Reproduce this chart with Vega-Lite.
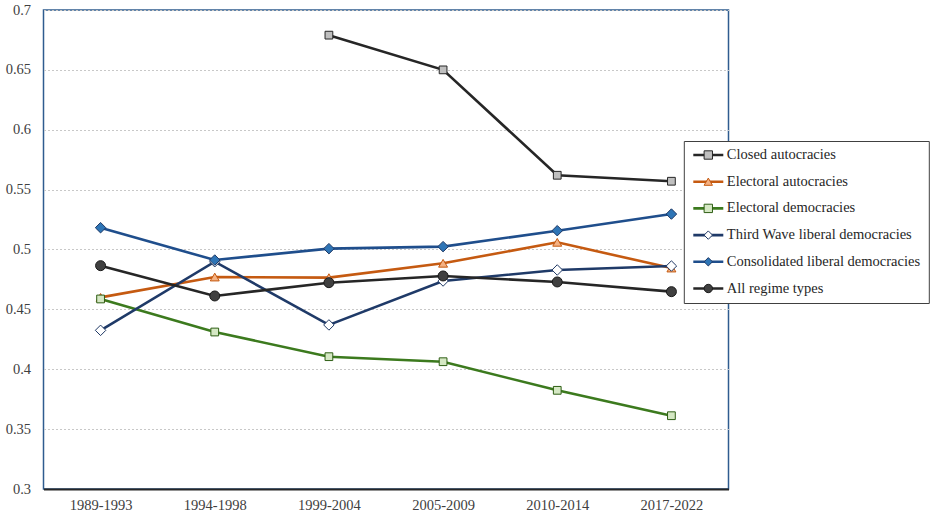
{
  "$schema": "https://vega.github.io/schema/vega-lite/v6.json",
  "width": 685,
  "height": 479,
  "autosize": {"type": "none"},
  "padding": {"left": 43.5, "top": 10, "right": 206.5, "bottom": 28},
  "background": "white",
  "config": {
    "font": "Times New Roman, Liberation Serif, serif",
    "view": {"stroke": "#2f5c8f", "strokeWidth": 1.5}
  },
  "data": {
    "values": [
      {"period": "1999-2004", "series": "Closed autocracies", "order": 1, "value": 0.679},
      {"period": "2005-2009", "series": "Closed autocracies", "order": 1, "value": 0.650},
      {"period": "2010-2014", "series": "Closed autocracies", "order": 1, "value": 0.562},
      {"period": "2017-2022", "series": "Closed autocracies", "order": 1, "value": 0.557},
      {"period": "1989-1993", "series": "Electoral autocracies", "order": 2, "value": 0.460},
      {"period": "1994-1998", "series": "Electoral autocracies", "order": 2, "value": 0.477},
      {"period": "1999-2004", "series": "Electoral autocracies", "order": 2, "value": 0.4765},
      {"period": "2005-2009", "series": "Electoral autocracies", "order": 2, "value": 0.4885},
      {"period": "2010-2014", "series": "Electoral autocracies", "order": 2, "value": 0.506},
      {"period": "2017-2022", "series": "Electoral autocracies", "order": 2, "value": 0.4845},
      {"period": "1989-1993", "series": "Electoral democracies", "order": 3, "value": 0.4587},
      {"period": "1994-1998", "series": "Electoral democracies", "order": 3, "value": 0.4311},
      {"period": "1999-2004", "series": "Electoral democracies", "order": 3, "value": 0.4105},
      {"period": "2005-2009", "series": "Electoral democracies", "order": 3, "value": 0.4063},
      {"period": "2010-2014", "series": "Electoral democracies", "order": 3, "value": 0.3824},
      {"period": "2017-2022", "series": "Electoral democracies", "order": 3, "value": 0.3612},
      {"period": "1989-1993", "series": "Third Wave liberal democracies", "order": 4, "value": 0.4325},
      {"period": "1994-1998", "series": "Third Wave liberal democracies", "order": 4, "value": 0.4898},
      {"period": "1999-2004", "series": "Third Wave liberal democracies", "order": 4, "value": 0.437},
      {"period": "2005-2009", "series": "Third Wave liberal democracies", "order": 4, "value": 0.4737},
      {"period": "2010-2014", "series": "Third Wave liberal democracies", "order": 4, "value": 0.4829},
      {"period": "2017-2022", "series": "Third Wave liberal democracies", "order": 4, "value": 0.4862},
      {"period": "1989-1993", "series": "Consolidated liberal democracies", "order": 5, "value": 0.5182},
      {"period": "1994-1998", "series": "Consolidated liberal democracies", "order": 5, "value": 0.4912},
      {"period": "1999-2004", "series": "Consolidated liberal democracies", "order": 5, "value": 0.5007},
      {"period": "2005-2009", "series": "Consolidated liberal democracies", "order": 5, "value": 0.5024},
      {"period": "2010-2014", "series": "Consolidated liberal democracies", "order": 5, "value": 0.5157},
      {"period": "2017-2022", "series": "Consolidated liberal democracies", "order": 5, "value": 0.5296},
      {"period": "1989-1993", "series": "All regime types", "order": 6, "value": 0.4865},
      {"period": "1994-1998", "series": "All regime types", "order": 6, "value": 0.4612},
      {"period": "1999-2004", "series": "All regime types", "order": 6, "value": 0.4723},
      {"period": "2005-2009", "series": "All regime types", "order": 6, "value": 0.4779},
      {"period": "2010-2014", "series": "All regime types", "order": 6, "value": 0.4729},
      {"period": "2017-2022", "series": "All regime types", "order": 6, "value": 0.4648}
    ]
  },
  "encoding": {
    "x": {
      "field": "period", "type": "ordinal",
      "scale": {"type": "point", "padding": 0.5},
      "axis": {"title": null, "labelAngle": 0, "ticks": false, "tickSize": 0, "labelPadding": 9, "grid": false,
               "domainColor": "#262626", "domainWidth": 1.8, "labelFont": "Times New Roman, Liberation Serif, serif", "labelFontSize": 14.5, "labelColor": "#404040"}
    },
    "y": {
      "field": "value", "type": "quantitative",
      "scale": {"domain": [0.3, 0.7], "nice": false, "zero": false},
      "axis": {"title": null, "values": [0.3, 0.35, 0.4, 0.45, 0.5, 0.55, 0.6, 0.65, 0.7], "format": ".2~f",
               "domain": false, "ticks": false, "tickSize": 0, "labelPadding": 13, "grid": true,
               "gridColor": "#c8c8c8", "gridDash": [2, 2], "gridWidth": 1,
               "labelFont": "Times New Roman, Liberation Serif, serif", "labelFontSize": 14.5, "labelColor": "#404040"}
    }
  },
  "layer": [
    {
      "mark": {"type": "line", "strokeWidth": 2.6},
      "encoding": {
        "color": {
          "field": "series", "type": "nominal",
          "scale": {
            "domain": ["Closed autocracies", "Electoral autocracies", "Electoral democracies", "Third Wave liberal democracies", "Consolidated liberal democracies", "All regime types"],
            "range": ["#262626", "#c55a11", "#3c7a1e", "#1f3a68", "#1f4e8c", "#262626"]
          },
          "legend": {
            "orient": "none", "legendX": 640.3, "legendY": 131, "title": null,
            "symbolType": "stroke", "symbolSize": 900, "symbolStrokeWidth": 2.6,
            "clipHeight": 12, "rowPadding": 11.7, "padding": 8,
            "labelFont": "Times New Roman, Liberation Serif, serif", "labelFontSize": 14.5, "labelColor": "#262626", "labelOffset": 2, "labelLimit": 400,
            "strokeColor": "#404040", "fillColor": "white"
          }
        }
      }
    },
    {
      "mark": {"type": "point", "filled": true, "strokeWidth": 1, "opacity": 1},
      "encoding": {
        "shape": {
          "field": "series", "type": "nominal", "sort": {"field": "order", "op": "min"},
          "scale": {"range": ["square", "triangle-up", "square", "diamond", "diamond", "circle"]},
          "legend": {
            "orient": "none", "legendX": 649.55, "legendY": 131, "title": null,
            "symbolSize": 70, "symbolStrokeWidth": 1,
            "clipHeight": 12, "rowPadding": 11.7, "padding": 8,
            "labelFont": "Times New Roman, Liberation Serif, serif", "labelFontSize": 14.5, "labelOpacity": 0, "labelOffset": 2, "labelLimit": 400
          }
        },
        "fill": {
          "field": "series", "type": "nominal", "sort": {"field": "order", "op": "min"},
          "scale": {"range": ["#bfbfbf", "#f4b183", "#d5e8c4", "#ffffff", "#2e75b6", "#404040"]},
          "legend": {
            "orient": "none", "legendX": 649.55, "legendY": 131, "title": null,
            "symbolSize": 70, "symbolStrokeWidth": 1,
            "clipHeight": 12, "rowPadding": 11.7, "padding": 8,
            "labelFont": "Times New Roman, Liberation Serif, serif", "labelFontSize": 14.5, "labelOpacity": 0, "labelOffset": 2, "labelLimit": 400
          }
        },
        "stroke": {
          "field": "series", "type": "nominal", "sort": {"field": "order", "op": "min"},
          "scale": {"range": ["#262626", "#c55a11", "#2e5e14", "#1f3864", "#1f3864", "#1a1a1a"]},
          "legend": {
            "orient": "none", "legendX": 649.55, "legendY": 131, "title": null,
            "symbolSize": 70, "symbolStrokeWidth": 1,
            "clipHeight": 12, "rowPadding": 11.7, "padding": 8,
            "labelFont": "Times New Roman, Liberation Serif, serif", "labelFontSize": 14.5, "labelOpacity": 0, "labelOffset": 2, "labelLimit": 400
          }
        },
        "size": {
          "condition": [
            {"test": "datum.series === 'All regime types'", "value": 100},
            {"test": "indexof(datum.series, 'liberal') >= 0", "value": 110},
            {"test": "datum.series === 'Electoral autocracies'", "value": 80}
          ],
          "value": 60
        }
      }
    }
  ]
}
